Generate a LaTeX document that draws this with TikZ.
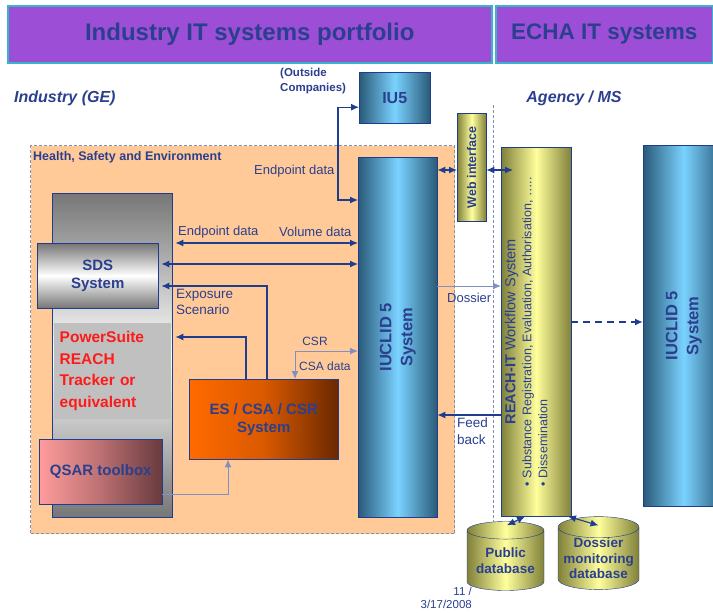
\documentclass[tikz,border=0pt]{standalone}
\usepackage{fontspec}
\setmainfont{Liberation Sans}
\usetikzlibrary{shapes.geometric,arrows.meta}

\definecolor{hdrpurple}{HTML}{9C4FD6}
\definecolor{hdrcyan}{HTML}{3AB4C8}
\definecolor{navy}{HTML}{2B3F8F}
\definecolor{flowblue}{HTML}{1F3D8F}
\definecolor{paleflow}{HTML}{8090C0}
\definecolor{peach}{HTML}{FFCA98}
\definecolor{hsedash}{HTML}{8090B0}
\definecolor{tealdark}{HTML}{2A5A78}
\definecolor{skyblue}{HTML}{7AD2FF}
\definecolor{olive}{HTML}{80803A}
\definecolor{paleyellow}{HTML}{FFFF9C}
\definecolor{pstgray}{HTML}{C0C0C0}
\definecolor{pstred}{HTML}{FF1A1A}
\definecolor{darkgray}{HTML}{767676}
\definecolor{esorange}{HTML}{FF6A00}
\definecolor{esbrown}{HTML}{6A2800}
\definecolor{qsarpink}{HTML}{FF9C9C}
\definecolor{qsarbrown}{HTML}{683A3E}

\begin{document}
\begin{tikzpicture}[x=1pt,y=-1pt,>={Latex[length=8pt,width=7pt]},
    hdrbar/.style={draw=hdrcyan, line width=1.5pt, fill=hdrpurple, anchor=north west,
        inner sep=0pt, text=navy, font=\fontsize{24}{28}\selectfont\bfseries},
    box/.style={draw=flowblue, inner sep=0pt, anchor=north west, align=center,
        text=navy, font=\fontsize{15}{18}\selectfont\bfseries},
    bluebar/.style={box, left color=tealdark, right color=tealdark, middle color=skyblue},
    yellowbar/.style={box, left color=olive, right color=olive, middle color=paleyellow},
    dbcyl/.style={cylinder, shape border rotate=90, aspect=0.3, draw=flowblue,
        left color=olive, right color=olive, middle color=paleyellow, inner sep=0pt,
        align=center, text=navy, font=\fontsize{13.5}{15.5}\selectfont\bfseries},
    lbl/.style={text=navy, inner sep=0pt, align=left, font=\fontsize{13}{16}\selectfont},
    flow/.style={draw=flowblue, line width=1.1pt},
    lightflow/.style={draw=paleflow, line width=1pt}]

\useasboundingbox (0,0) rectangle (713,613);
\clip (0,0) rectangle (713,613);

\node[hdrbar, minimum width=484pt, minimum height=57pt] (hdrind) at (7,5) {Industry IT systems portfolio};
\node[hdrbar, minimum width=217pt, minimum height=57pt, font=\fontsize{22.5}{26}\selectfont\bfseries] (hdrecha) at (495,5) {ECHA IT systems};

\node[lbl, anchor=west, font=\fontsize{16}{19}\selectfont\bfseries\itshape] (industry) at (14,98) {Industry (GE)};
\node[lbl, font=\fontsize{16}{19}\selectfont\bfseries\itshape] (agency) at (574,98) {Agency / MS};
\node[lbl, anchor=west, font=\fontsize{11.5}{15}\selectfont\bfseries] (outside) at (280,81) {(Outside\\Companies)};

\node[box, minimum width=424pt, minimum height=388pt, draw=hsedash, dash pattern=on 3pt off 2pt, line width=1pt, fill=peach] (hse) at (30,145) {};
\node[lbl, anchor=west, font=\fontsize{12.5}{15}\selectfont\bfseries] (hsetitle) at (33,157) {Health, Safety and Environment};

\node[box, minimum width=120pt, minimum height=324pt, top color=darkgray, bottom color=darkgray, middle color=white] (ptbg) at (52,193) {};
\node[box, draw=none, fill=pstgray, minimum width=117pt, minimum height=96pt, text width=106pt, align=left,
    text=pstred, font=\fontsize{15.5}{21.5}\selectfont\bfseries] (pstrack) at (54,323) {PowerSuite\\REACH\\Tracker or\\equivalent};
\node[box, minimum width=121pt, minimum height=65pt, top color=darkgray, bottom color=darkgray, middle color=white] (sds) at (37,243) {SDS\\System};
\node[box, minimum width=123pt, minimum height=65pt, left color=qsarpink, right color=qsarbrown, middle color=qsarpink!55!qsarbrown] (qsar) at (39,439) {QSAR toolbox};
\node[box, minimum width=149pt, minimum height=80pt, left color=esorange, right color=esbrown, middle color=esorange!75!esbrown] (es) at (189,379) {ES / CSA / CSR\\System};

\node[bluebar, minimum width=71pt, minimum height=51pt, font=\fontsize{16}{19}\selectfont\bfseries] (iu5) at (359,72) {IU5};
\node[bluebar, minimum width=79pt, minimum height=360pt, font=\fontsize{16.5}{21}\selectfont\bfseries] (iuclid) at (358,157) {\rotatebox{90}{\begin{tabular}{@{}c@{}}IUCLID 5\\System\end{tabular}}};
\node[yellowbar, minimum width=29pt, minimum height=108pt, font=\fontsize{12.5}{15}\selectfont\bfseries] (web) at (457,113) {\rotatebox{90}{Web interface}};
\node[yellowbar, minimum width=70pt, minimum height=369pt] (reach) at (501,147) {};
\node[lbl, font=\fontsize{12.5}{16}\selectfont] (reachtxt) at ([xshift=-8pt]reach.center) {\rotatebox{90}{\begin{tabular}{@{}l@{}}\multicolumn{1}{@{}c@{}}{\fontsize{14.5}{16}\selectfont\textbf{REACH-IT} Workflow System}\\
    • Substance Registration, Evaluation, Authorisation, …..\\ • Dissemination\end{tabular}}};
\node[bluebar, minimum width=81pt, minimum height=361pt, font=\fontsize{16.5}{21}\selectfont\bfseries] (iuclidecha) at (643,145) {\rotatebox{90}{\begin{tabular}{@{}c@{}}IUCLID 5\\System\end{tabular}}};

\node[dbcyl, minimum width=77pt, minimum height=69pt] (pubdb) at (505.5,560.5) {Public\\database};
\node[dbcyl, minimum width=81pt, minimum height=73pt] (dosdb) at (598.5,558.5) {Dossier\\monitoring\\database};

\coordinate (agtop) at (493,105);
\coordinate (agbot) at (493,522);
\draw[hsedash, dash pattern=on 3pt off 2pt, line width=1pt] (agtop) -- (agbot);

\coordinate (epbend) at (338,200);
\draw[flow,<->] ([yshift=-9.5pt]iu5.west) -| (epbend) -- (epbend -| iuclid.west);
\draw[flow,<->] ([xshift=3pt]ptbg.east |- 0,243) -- (iuclid.west |- 0,243);
\draw[flow,<->] ([xshift=3pt]sds.east |- 0,264) -- (iuclid.west |- 0,264);
\draw[flow,->] (es.north -| 267,0) |- ([xshift=3pt]sds.east |- 0,286);
\draw[flow,->] (es.north -| 246,0) |- ([xshift=3pt]ptbg.east |- 0,337);
\draw[lightflow,<->] (es.north -| 295,0) |- (iuclid.west |- 0,351);
\draw[lightflow,->] (qsar.east |- 0,494) -| (es.south -| 228,0);
\draw[flow,<->] (iuclid.east |- 0,170) -- (web.west |- 0,170);
\draw[flow,<->] (web.east |- 0,170) -- ([xshift=12pt]reach.west |- 0,170);
\draw[lightflow,->] (iuclid.east |- 0,286) -- (reach.west |- 0,286);
\draw[flow,->] (reach.west |- 0,415) -- (iuclid.east |- 0,415);
\draw[flow,line width=1.8pt,dash pattern=on 7pt off 5pt,->] (reach.east |- 0,322) -- (iuclidecha.west |- 0,322);
\draw[flow,<->] (reach.south -| 525,0) -- ([xshift=1.5pt,yshift=-4pt]pubdb.north);
\draw[flow,<->] (reach.south -| 568,0) -- ([yshift=-9pt]dosdb.north);

\node[lbl, anchor=west] (epdata) at (254,171) {Endpoint data};
\node[lbl, anchor=west] (epdata2) at (178,232) {Endpoint data};
\node[lbl, anchor=west] (voldata) at (279,232) {Volume data};
\node[lbl, anchor=west, font=\fontsize{13.5}{15.5}\selectfont] (expo) at (176,302) {Exposure\\Scenario};
\node[lbl, font=\fontsize{12}{14}\selectfont] (csr) at (315,341) {CSR};
\node[lbl, anchor=west, font=\fontsize{12}{14}\selectfont] (csadata) at (299,366) {CSA data};
\node[lbl, anchor=west] (dossier) at (447,298) {Dossier};
\node[lbl, anchor=west, font=\fontsize{13.5}{16.5}\selectfont] (feedback) at (457,431) {Feed\\back};
\node[lbl, anchor=east, align=right, font=\fontsize{11.5}{13}\selectfont] (pagenum) at (472,598) {11 /\\3/17/2008};
\end{tikzpicture}
\end{document}
